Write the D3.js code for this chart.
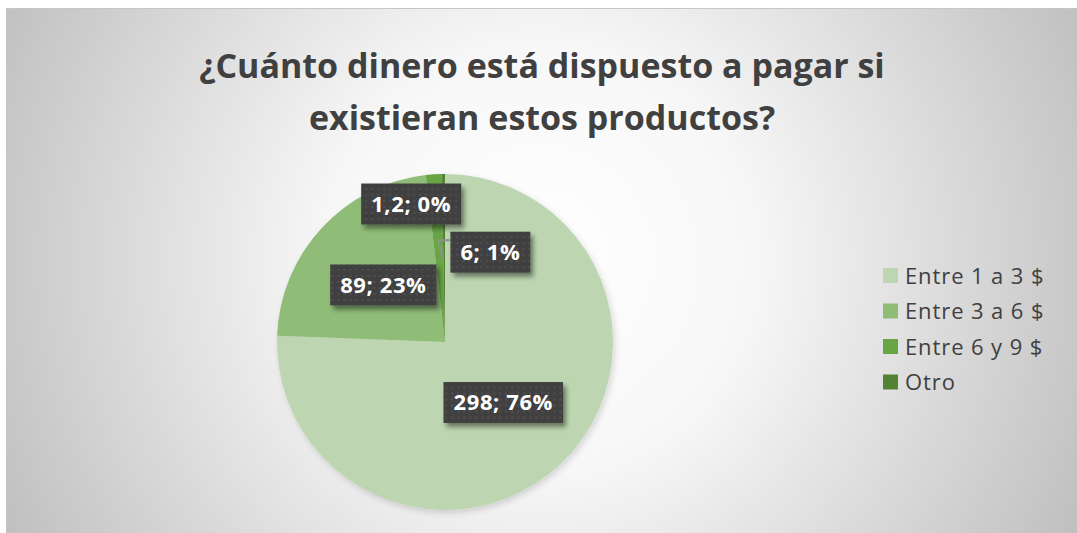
<!DOCTYPE html>
<html>
<head>
<meta charset="utf-8">
<script src="https://cdn.jsdelivr.net/npm/d3@7"></script>
<style>
html,body{margin:0;padding:0;background:#fff;}
svg{display:block;}
</style>
</head>
<body>
<svg id="chart" width="1077" height="533"></svg>
<script>
const categories = ["Entre 1 a 3 $", "Entre 3 a 6 $", "Entre 6 y 9 $", "Otro"];
const values = [298, 89, 6, 1.2];
const valueLabels = ["298", "89", "6", "1,2"];
const pctLabels = ["76%", "23%", "1%", "0%"];
const colors = ["#bdd6b1", "#8fbc77", "#67a545", "#548235"];
const titleLines = ["¿Cuánto dinero está dispuesto a pagar si", "existieran estos productos?"];

const W = 1077, H = 533;
const svg = d3.select("#chart");
const defs = svg.append("defs");

const bg = defs.append("radialGradient").attr("id","bg")
  .attr("gradientUnits","userSpaceOnUse").attr("cx",540).attr("cy",260).attr("r",610);
bg.append("stop").attr("offset","0%").attr("stop-color","#ffffff");
bg.append("stop").attr("offset","35%").attr("stop-color","#f7f7f7");
bg.append("stop").attr("offset","100%").attr("stop-color","#bebebe");

const pat = defs.append("pattern").attr("id","dots").attr("patternUnits","userSpaceOnUse")
  .attr("width",6).attr("height",6);
pat.append("rect").attr("width",6).attr("height",6).attr("fill","#404040");
pat.append("rect").attr("x",2).attr("y",2).attr("width",2).attr("height",2).attr("fill","#505050");

const sh = defs.append("filter").attr("id","shadow").attr("x","-20%").attr("y","-20%").attr("width","150%").attr("height","170%");
sh.append("feDropShadow").attr("dx",3).attr("dy",4).attr("stdDeviation",2.5).attr("flood-color","#000").attr("flood-opacity",0.45);

const psh = defs.append("filter").attr("id","pshadow").attr("x","-20%").attr("y","-20%").attr("width","150%").attr("height","150%");
psh.append("feDropShadow").attr("dx",2).attr("dy",3).attr("stdDeviation",3).attr("flood-color","#000").attr("flood-opacity",0.15);

// chart background
svg.append("rect").attr("x",6).attr("y",8).attr("width",W-6).attr("height",H-8).attr("fill","url(#bg)");
svg.append("line").attr("x1",6).attr("x2",W).attr("y1",8.5).attr("y2",8.5).attr("stroke","#c6c6c6").attr("stroke-width",1);
svg.append("line").attr("x1",6.5).attr("x2",6.5).attr("y1",8).attr("y2",H).attr("stroke","#c6c6c6").attr("stroke-width",1);

// title
const title = svg.append("text").attr("text-anchor","middle")
  .attr("font-family","'Open Sans', sans-serif").attr("font-weight","bold")
  .attr("font-size",34).attr("fill","#404040");
titleLines.forEach((t,i)=>{
  title.append("tspan").attr("x",542).attr("y",78 + i*52).text(t);
});

// pie
const cx = 445, cy = 342, R = 168;
const pie = d3.pie().sort(null).value(d=>d)(values);
const arc = d3.arc().innerRadius(0).outerRadius(R);
const g = svg.append("g").attr("transform",`translate(${cx},${cy})`);
g.append("g").attr("filter","url(#pshadow)").selectAll("path").data(pie).join("path")
  .attr("d",arc).attr("fill",(d,i)=>colors[i]);

// labels: centroid at half radius, small slices moved outside with adjustments
const labelArc = d3.arc().innerRadius(R*0.5).outerRadius(R*0.5);
const labelShift = [[0,0],[0,0],[51,-6],[-33,-54]];
const labels = pie.map((d,i)=>{
  const c = labelArc.centroid(d);
  return {x: c[0] + labelShift[i][0], y: c[1] + labelShift[i][1], text: valueLabels[i] + "; " + pctLabels[i], d, i, c};
});

const lg = g.selectAll("g.lbl").data(labels).join("g").attr("class","lbl")
  .attr("transform",d=>`translate(${d.x},${d.y})`);
lg.each(function(d){
  const sel = d3.select(this);
  const t = sel.append("text").attr("text-anchor","middle").attr("dy","0.36em")
    .attr("font-family","'Open Sans', sans-serif").attr("font-weight","bold")
    .attr("font-size",22).attr("letter-spacing",0.6).attr("fill","#ffffff").text(d.text);
  const bb = t.node().getBBox();
  d.halfW = bb.width/2 + 10;
  sel.insert("rect","text").attr("x",-d.halfW).attr("y",-20.5).attr("width",2*d.halfW).attr("height",41)
    .attr("fill","url(#dots)").attr("filter","url(#shadow)");
});

// leader line for "6; 1%"
{
  const L = labels[2];
  const leftX = L.x - L.halfW;
  g.append("polyline")
    .attr("points", `${leftX},${L.y - 12} ${leftX - 12},${L.y - 12} ${leftX - 8},${L.c[1]}`)
    .attr("fill","none").attr("stroke","#8f8f8f").attr("stroke-width",2);
}

// legend
const lgd = svg.append("g").attr("transform","translate(883,276)");
const items = lgd.selectAll("g").data(categories).join("g").attr("transform",(d,i)=>`translate(0,${i*35.5})`);
items.append("rect").attr("x",0).attr("y",-8).attr("width",15).attr("height",15).attr("fill",(d,i)=>colors[i]);
items.append("text").attr("x",22).attr("dy","0.35em")
  .attr("font-family","'Open Sans', sans-serif").attr("font-size",22).attr("letter-spacing",0.9).attr("fill","#404040").text(d=>d);
</script>
</body>
</html>
